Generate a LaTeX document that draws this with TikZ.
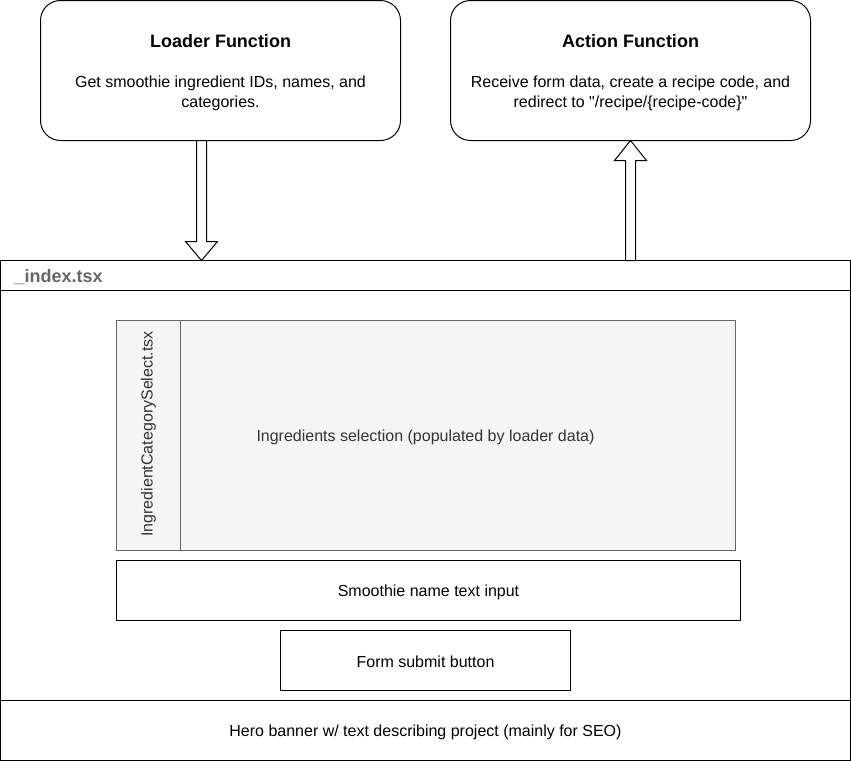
\documentclass[tikz,border=0pt]{standalone}
\usepackage{fontspec}
\setmainfont{Liberation Sans}
\newfontfamily\rawfont{Liberation Sans}
\usetikzlibrary{calc}
\definecolor{panelgray}{HTML}{F5F5F5}
\definecolor{edgegray}{HTML}{666666}
\definecolor{textgray}{HTML}{333333}
\newcommand{\straightquote}{{\rawfont\symbol{34}}}

\begin{document}
\begin{tikzpicture}[x=1pt,y=-1pt,
    fnbox/.style={draw,rounded corners=20pt,line width=1pt,minimum width=360pt,minimum height=140pt,inner sep=0pt,outer sep=0pt,anchor=north west},
    plainbox/.style={draw,line width=1pt,inner sep=0pt,outer sep=0pt,anchor=north west},
    titletext/.style={font=\bfseries\fontsize{18}{22}\selectfont},
    bodytext/.style={font=\fontsize{16}{20}\selectfont,align=center},
    blockarrow/.style={draw,line width=1pt,fill=white,line join=miter}]

\useasboundingbox (0,0) rectangle (851,761);

% function boxes
\node[fnbox] (loader) at (40.5,0.5) {};
\node[fnbox] (action) at (450.5,0.5) {};
\node[titletext] (loadertitle) at (220.5,41.5) {Loader Function};
\node[bodytext] (loaderbody) at (220.5,93) {Get smoothie ingredient IDs, names, and\\categories.};
\node[titletext] (actiontitle) at (630.5,41.5) {Action Function};
\node[bodytext] (actionbody) at (630.5,93) {Receive form data, create a recipe code, and\\redirect to \straightquote/recipe/\{recipe-code\}\straightquote};

% page container
\node[plainbox,minimum width=850pt,minimum height=500pt] (index) at (0.5,260.5) {};
\draw[line width=1pt] (index.north west |- 0,290.5) -- (index.north east |- 0,290.5);
\draw[line width=1pt] (index.north west |- 0,700.5) -- (index.north east |- 0,700.5);
\node[font=\bfseries\fontsize{18}{22}\selectfont,text=edgegray,anchor=west] (indexlabel) at (11,277) {\_index.tsx};

% ingredients panel
\node[plainbox,draw=edgegray,fill=panelgray,minimum width=619pt,minimum height=230pt] (panel) at (116.5,320.5) {};
\draw[line width=1pt,edgegray] (180.5,320.5) -- (180.5,550.5);
\node[bodytext,text=textgray,rotate=90] (catlabel) at (148.5,434) {IngredientCategorySelect.tsx};
\node[bodytext,text=textgray] (selectlabel) at (425.5,437) {Ingredients selection (populated by loader data)};

% form parts
\node[plainbox,minimum width=624pt,minimum height=60pt] (nameinput) at (116.5,560.5) {};
\node[bodytext] (nametext) at ($(nameinput.center)+(0,1.5)$) {Smoothie name text input};
\node[plainbox,minimum width=290pt,minimum height=60pt] (submit) at (280.5,630.5) {};
\node[bodytext] (submittext) at ($(submit.center)+(0,1)$) {Form submit button};
\node[bodytext] (herotext) at (425.5,732) {Hero banner w/ text describing project (mainly for SEO)};

% data flow arrows
\coordinate (downtop) at ($(loader.south)+(-19,0)$);
\coordinate (downtip) at (downtop |- index.north);
\draw[blockarrow] ($(downtop)+(-5,0)$) -- ($(downtop)+(5,0)$) -- ($(downtip)+(5,-19)$)
    -- ($(downtip)+(16,-19)$) -- (downtip) -- ($(downtip)+(-16,-19)$) -- ($(downtip)+(-5,-19)$) -- cycle;
\coordinate (uptip) at (action.south);
\coordinate (upbase) at (uptip |- index.north);
\draw[blockarrow] ($(upbase)+(-5,0)$) -- ($(upbase)+(5,0)$) -- ($(uptip)+(5,20)$)
    -- ($(uptip)+(16,20)$) -- (uptip) -- ($(uptip)+(-16,20)$) -- ($(uptip)+(-5,20)$) -- cycle;
\end{tikzpicture}
\end{document}
